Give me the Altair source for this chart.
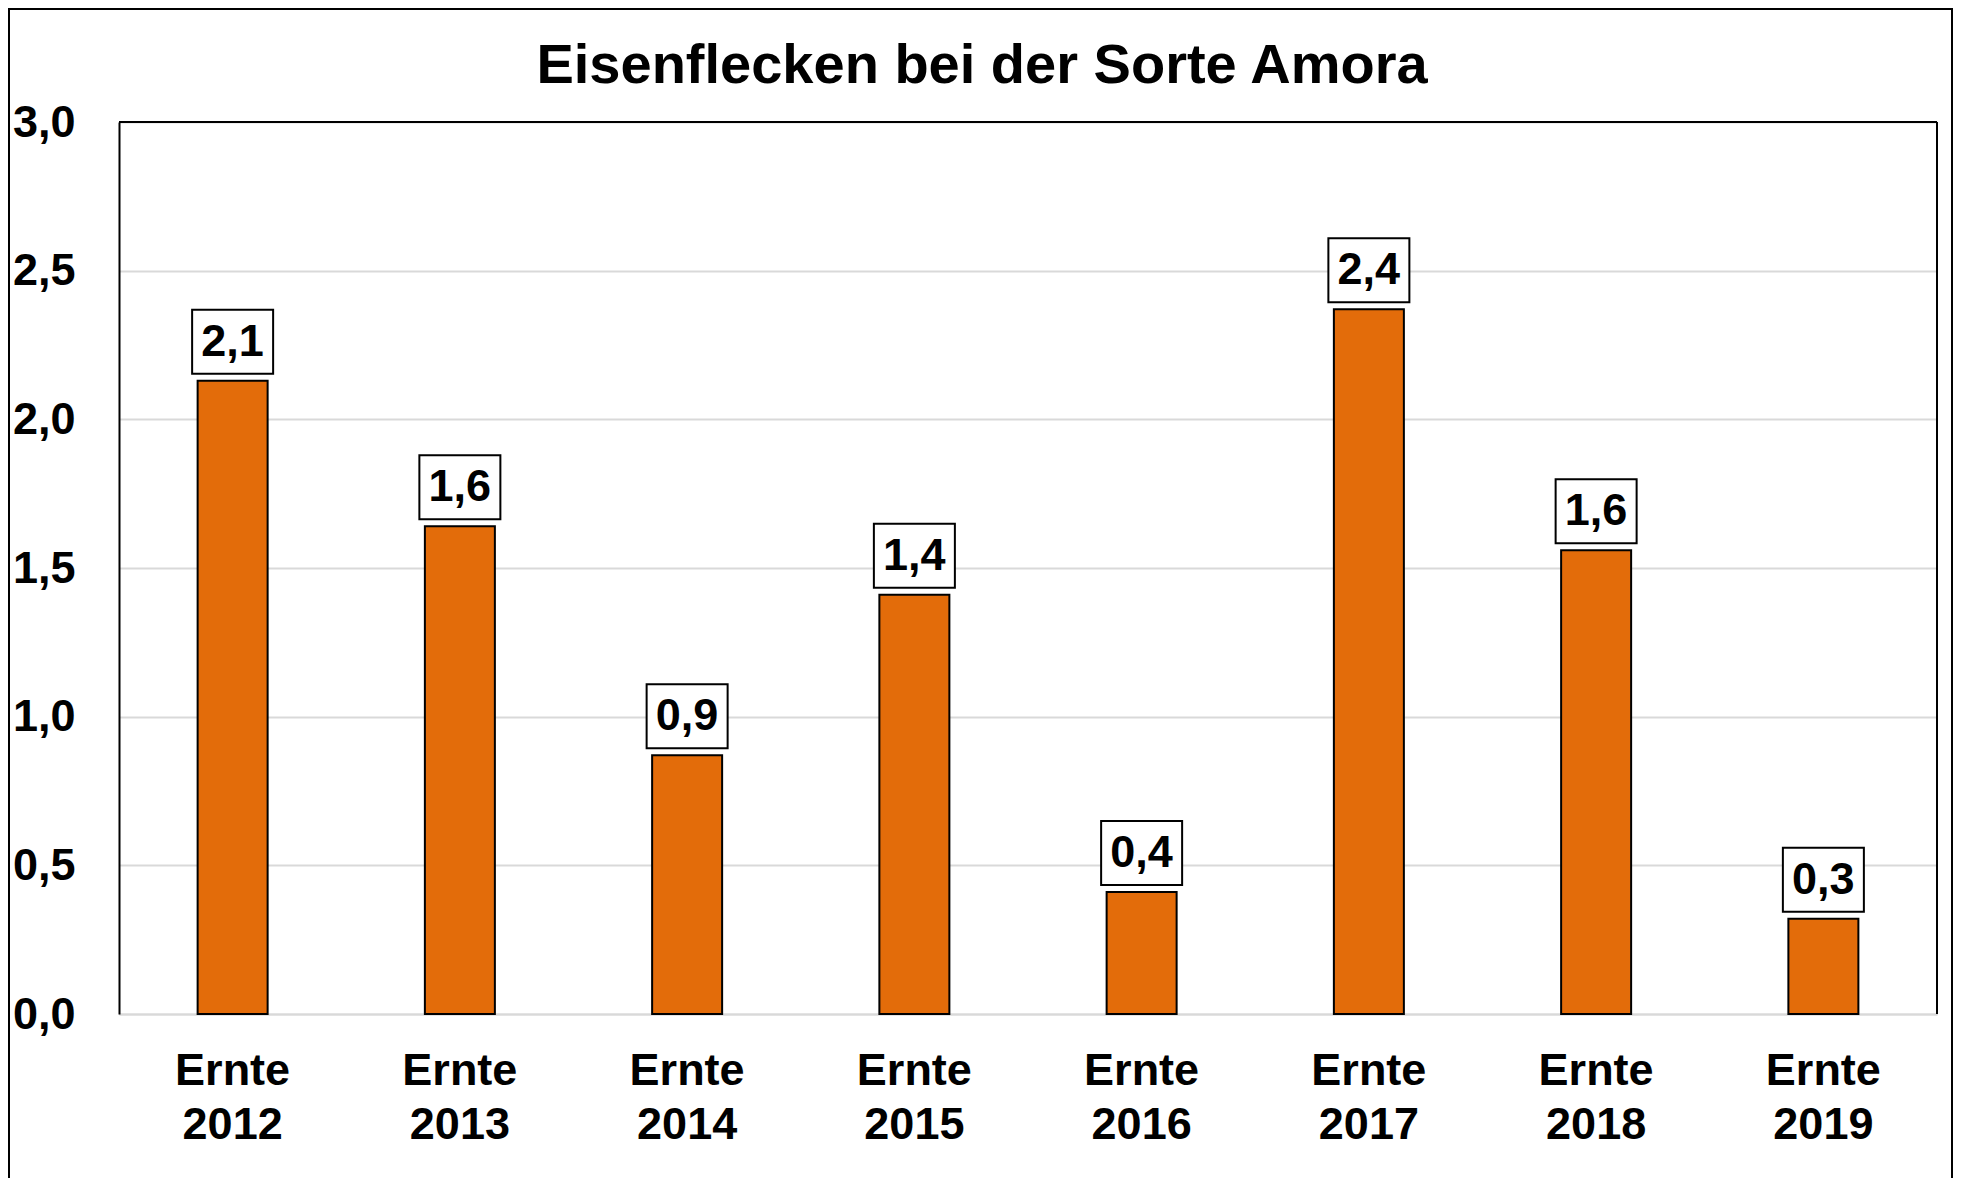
import altair as alt
import pandas as pd

# ---- data ----
jahre = ["2012", "2013", "2014", "2015", "2016", "2017", "2018", "2019"]
werte = [2.13, 1.64, 0.87, 1.41, 0.41, 2.37, 1.56, 0.32]
y_ticks = [0.0, 0.5, 1.0, 1.5, 2.0, 2.5, 3.0]
titel = "Eisenflecken bei der Sorte Amora"

df = pd.DataFrame({"jahr": jahre, "wert": werte})

FONT = "Liberation Sans"
W, H = 1818, 892
ORANGE = "#E36C0A"
GRID = "#D9D9D9"

x_enc = alt.X(
    "jahr:N",
    sort=jahre,
    scale=alt.Scale(paddingInner=0.2, paddingOuter=0.1),
    axis=alt.Axis(
        title=None,
        labelAngle=0,
        ticks=False,
        tickSize=0,
        domain=True,
        domainColor=GRID,
        domainWidth=2,
        grid=False,
        labelPadding=34,
        labelFont=FONT,
        labelFontSize=45,
        labelFontWeight="bold",
        labelColor="black",
        labelBaseline="top",
        labelLineHeight=54,
        labelExpr="['Ernte', datum.label]",
    ),
)

y_scale = alt.Scale(domain=[0, 3], nice=False, zero=True)

y_enc = alt.Y(
    "wert:Q",
    scale=y_scale,
    axis=alt.Axis(
        title=None,
        values=y_ticks,
        ticks=False,
        tickSize=0,
        domain=True,
        domainColor="black",
        domainWidth=2,
        grid=True,
        gridColor=GRID,
        gridWidth=2,
        labelPadding=44,
        labelFont=FONT,
        labelFontSize=45,
        labelFontWeight="bold",
        labelColor="black",
        labelFlush=False,
        labelOverlap=False,
        labelExpr="replace(format(datum.value, '.1f'), '.', ',')",
    ),
)

base = alt.Chart(df).transform_calculate(
    lbl="replace(format(datum.wert, '.1f'), '.', ',')"
)

bars = base.mark_bar(size=70, color=ORANGE, stroke="black", strokeWidth=2).encode(
    x=x_enc, y=y_enc
)

boxes = base.mark_bar(
    size=81, fill="white", stroke="black", strokeWidth=2, yOffset=-7, y2Offset=-71
).encode(x=alt.X("jahr:N", sort=jahre), y=alt.Y("wert:Q", scale=y_scale), y2="wert:Q")

texts = base.mark_text(
    dy=-25, baseline="alphabetic", align="center", font=FONT, fontSize=45,
    fontWeight="bold", color="black"
).encode(x=alt.X("jahr:N", sort=jahre), y=alt.Y("wert:Q", scale=y_scale), text="lbl:N")

# plot border (top and right), left comes from y-axis domain, bottom is grey x-axis domain
top_rule = alt.Chart(df).mark_rule(color="black", strokeWidth=2).encode(
    x=alt.value(0), x2=alt.value(W), y=alt.value(0)
)
right_rule = alt.Chart(df).mark_rule(color="black", strokeWidth=2).encode(
    x=alt.value(W), y=alt.value(0), y2=alt.value(H)
)

# outer chart frame
outer = alt.Chart(df).mark_rect(
    fillOpacity=0, stroke="black", strokeWidth=2
).encode(
    x=alt.value(-110), x2=alt.value(1833), y=alt.value(-113), y2=alt.value(1200)
)

chart = (
    alt.layer(outer, bars, boxes, texts, top_rule, right_rule)
    .properties(
        width=W,
        height=H,
        title=alt.TitleParams(
            titel,
            font=FONT,
            fontSize=56,
            fontWeight="bold",
            color="black",
            anchor="middle",
            baseline="alphabetic",
            offset=-76,
            dy=55,
            dx=-46,
        ),
        autosize=alt.AutoSizeParams(type="none"),
        padding={"left": 111, "top": 114, "right": 16, "bottom": 164},
    )
    .configure_view(stroke=None)
    .configure(background="white")
)

chart.save("out.html", embed_options={"renderer": "svg", "actions": False})
